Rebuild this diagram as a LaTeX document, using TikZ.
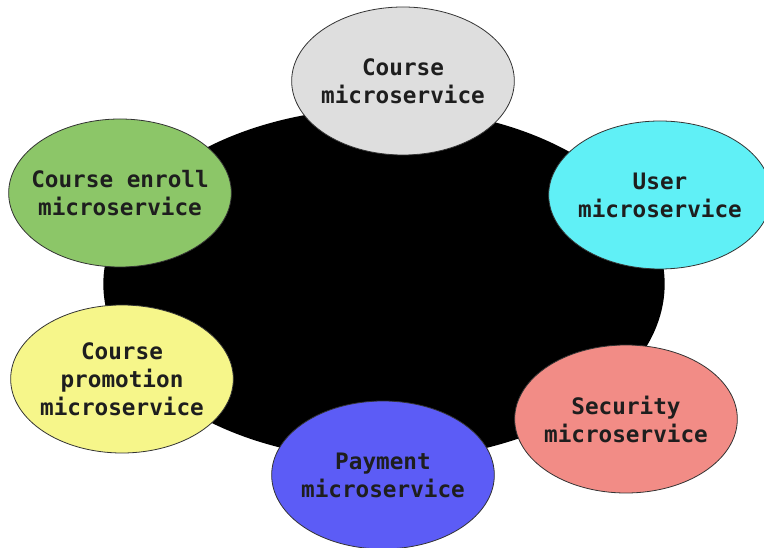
\documentclass[tikz,border=0pt]{standalone}
\usepackage{fontspec}
\usepackage{tikz}
\usepackage{xcolor}
\usetikzlibrary{positioning,shapes.geometric}
\newfontfamily\svcfont{DejaVu Sans Mono}
\definecolor{svcgrayc}{RGB}{222,222,222}
\definecolor{svcgreenc}{RGB}{140,198,104}
\definecolor{svccyanc}{RGB}{96,240,246}
\definecolor{svcyellowc}{RGB}{246,246,138}
\definecolor{svcpinkc}{RGB}{242,140,134}
\definecolor{svcbluec}{RGB}{92,92,246}
\definecolor{svctextc}{RGB}{30,30,30}
\tikzset{
	svc/.style={ellipse, draw=black!80, line width=0.6pt, minimum width=167pt, minimum height=111pt,
		inner xsep=-10pt, inner ysep=0pt, align=center, text=svctextc, font=\svcfont\bfseries\fontsize{17}{21}\selectfont},
	hub/.style={ellipse, fill=black, minimum width=421pt, minimum height=264pt, inner sep=0pt}
}
\newcommand{\service}[5]{
	% name posx posy colour text
	\node[svc, fill=#4] (#1) at (#2,#3) {#5};
}
\newcommand{\svcgray}{svcgrayc}
\newcommand{\svcgreen}{svcgreenc}
\newcommand{\svccyan}{svccyanc}
\newcommand{\svcyellow}{svcyellowc}
\newcommand{\svcpink}{svcpinkc}
\newcommand{\svcblue}{svcbluec}
\begin{document}
\begin{tikzpicture}[x=0.75pt, y=-0.75pt]
	\useasboundingbox (0,0) rectangle (764,548);
	\node[hub] (core) at (384,284) {};
	% name posx posy colour text
	\service{course}{403}{81}\svcgray{Course\\microservice}
	\service{enroll}{120}{193}\svcgreen{Course enroll\\microservice}
	\service{user}{660}{195}\svccyan{User\\microservice}
	\service{promo}{122}{379}\svcyellow{Course\\promotion\\microservice}
	\service{security}{626}{419}\svcpink{Security\\microservice}
	\service{payment}{383}{475}\svcblue{Payment\\microservice}
\end{tikzpicture}
\end{document}
